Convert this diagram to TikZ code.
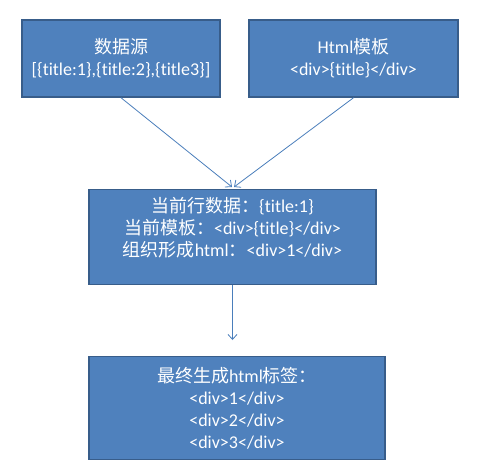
\documentclass[tikz,border=0pt]{standalone}
\usepackage{fontspec}
\setmainfont{Carlito}[Ligatures={NoCommon,NoRequired}]
\newfontfamily\cjk{Noto Sans CJK SC}
\usetikzlibrary{arrows.meta}
\definecolor{boxfill}{HTML}{4F81BD}
\definecolor{boxline}{HTML}{385D8A}
\definecolor{arrowc}{HTML}{4A7EBB}
\begin{document}
\begin{tikzpicture}[x=1pt,y=-1pt,
  box/.style={draw=boxline, line width=1.5pt, fill=boxfill, text=white, align=center, inner sep=0pt, font=\fontsize{18}{22}\selectfont},
  conn/.style={draw=arrowc, line width=0.8pt, -{Straight Barb[length=5pt,width=9pt]}}]
\useasboundingbox (0,0) rectangle (492,475);
\node[box, minimum width=198pt, minimum height=77pt] (src) at (121,58.5)
  {{\cjk 数据源}\\{[}\{title:1\},\{title:2\},\{title3\}{]}};
\node[box, minimum width=209pt, minimum height=77pt] (tpl) at (353.5,58.5)
  {Html{\cjk 模板}\\<div>\{title\}</div>};
\node[box, minimum width=287pt, minimum height=95pt] (cur) at (232.5,237)
  {{\cjk 当前行数据：}\{title:1\}\\{\cjk 当前模板：}<div>\{title\}</div>\\{\cjk 组织形成}html{\cjk ：}<div>1</div>\\[-8pt]\strut};
\node[box, minimum width=296pt, minimum height=103pt] (fin) at (237,408)
  {{\cjk 最终生成}html{\cjk 标签：}\\<div>1</div>\\<div>2</div>\\<div>3</div>};
\coordinate (j1) at (232,187);
\coordinate (j2) at (234,187);
\coordinate (e) at (232.5,340);
\draw[conn] (src.south) -- (j1);
\draw[conn] (tpl.south) -- (j2);
\draw[conn] (cur.south) -- (e);
\end{tikzpicture}
\end{document}
